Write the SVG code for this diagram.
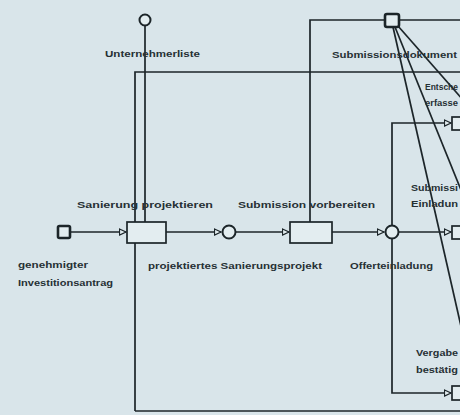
<svg xmlns="http://www.w3.org/2000/svg" width="460" height="415" viewBox="0 0 460 415">
<style>
.ln{fill:none;stroke:#1c2529;stroke-width:1.7}
.bx{fill:#e3edf0;stroke:#1c2529;stroke-width:1.7}
.ci{fill:#e3edf0;stroke:#1c2529;stroke-width:2}
.sq{fill:#e3edf0;stroke:#1c2529;stroke-width:2.6}
text{font-family:"Liberation Sans",Arial,sans-serif;font-size:9px;font-weight:bold;fill:#263034}
</style>
<defs>
<marker id="ar" markerWidth="9" markerHeight="9" refX="7.5" refY="4" orient="auto" markerUnits="userSpaceOnUse">
<path d="M1,1 L7.5,4 L1,7 z" fill="#e3edf0" stroke="#1c2529" stroke-width="1.2"/>
</marker>
</defs>
<rect width="460" height="415" fill="#d9e5ea"/>
<g id="connectors">
<path class="ln" d="M145,26 V222"/>
<path class="ln" d="M135,411 V72 H460"/>
<path class="ln" d="M135,411 H460"/>
<path class="ln" d="M310,222 V20 H384"/>
<path class="ln" d="M400,20 H460"/>
<path class="ln" d="M71,232 H126" marker-end="url(#ar)"/>
<path class="ln" d="M166,232 H221" marker-end="url(#ar)"/>
<path class="ln" d="M236,232 H289" marker-end="url(#ar)"/>
<path class="ln" d="M332,232 H384" marker-end="url(#ar)"/>
<path class="ln" d="M399,232 H451" marker-end="url(#ar)"/>
<path class="ln" d="M392,239 V393 H451" marker-end="url(#ar)"/>
<path class="ln" d="M392,225 V123 H451" marker-end="url(#ar)"/>
<path class="ln" d="M393,27 L463,335"/>
<path class="ln" d="M395,27 L463,195"/>
<path class="ln" d="M398,26 L463,100"/>
</g>
<g id="unternehmerliste">
<circle class="ci" cx="145" cy="20" r="5.5"/>
<text x="105" y="57" textLength="95" lengthAdjust="spacingAndGlyphs">Unternehmerliste</text>
</g>
<g id="submissionsdokument">
<rect class="sq" x="385" y="14" width="14" height="13" rx="2"/>
<text x="332" y="58" textLength="125" lengthAdjust="spacingAndGlyphs">Submissionsdokument</text>
</g>
<g id="investitionsantrag">
<rect class="sq" x="58" y="226" width="12" height="12" rx="1.5"/>
<text x="18" y="268" textLength="70" lengthAdjust="spacingAndGlyphs">genehmigter</text>
<text x="18" y="286" textLength="95" lengthAdjust="spacingAndGlyphs">Investitionsantrag</text>
</g>
<g id="sanierung-projektieren">
<rect class="bx" x="127" y="222" width="39" height="21"/>
<text x="77" y="208" textLength="136" lengthAdjust="spacingAndGlyphs">Sanierung projektieren</text>
</g>
<g id="sanierungsprojekt">
<circle class="ci" cx="229" cy="232" r="6.5"/>
<text x="148" y="269" textLength="174" lengthAdjust="spacingAndGlyphs">projektiertes Sanierungsprojekt</text>
</g>
<g id="submission-vorbereiten">
<rect class="bx" x="290" y="222" width="42" height="21"/>
<text x="238" y="208" textLength="137" lengthAdjust="spacingAndGlyphs">Submission vorbereiten</text>
</g>
<g id="offerteinladung">
<circle class="ci" cx="392" cy="232" r="6.5"/>
<text x="350" y="269" textLength="83" lengthAdjust="spacingAndGlyphs">Offerteinladung</text>
</g>
<g id="entscheid">
<rect class="bx" x="452" y="117" width="14" height="13"/>
<text x="425" y="90" textLength="33" lengthAdjust="spacingAndGlyphs">Entsche</text>
<text x="425" y="106" textLength="33" lengthAdjust="spacingAndGlyphs">erfasse</text>
</g>
<g id="submissionseinladung">
<rect class="bx" x="452" y="226" width="14" height="13"/>
<text x="411" y="191" textLength="47" lengthAdjust="spacingAndGlyphs">Submissi</text>
<text x="411" y="207" textLength="47" lengthAdjust="spacingAndGlyphs">Einladun</text>
</g>
<g id="vergabe">
<rect class="bx" x="452" y="386" width="14" height="14"/>
<text x="416" y="356" textLength="42" lengthAdjust="spacingAndGlyphs">Vergabe</text>
<text x="416" y="373" textLength="42" lengthAdjust="spacingAndGlyphs">bestätig</text>
</g>
</svg>
